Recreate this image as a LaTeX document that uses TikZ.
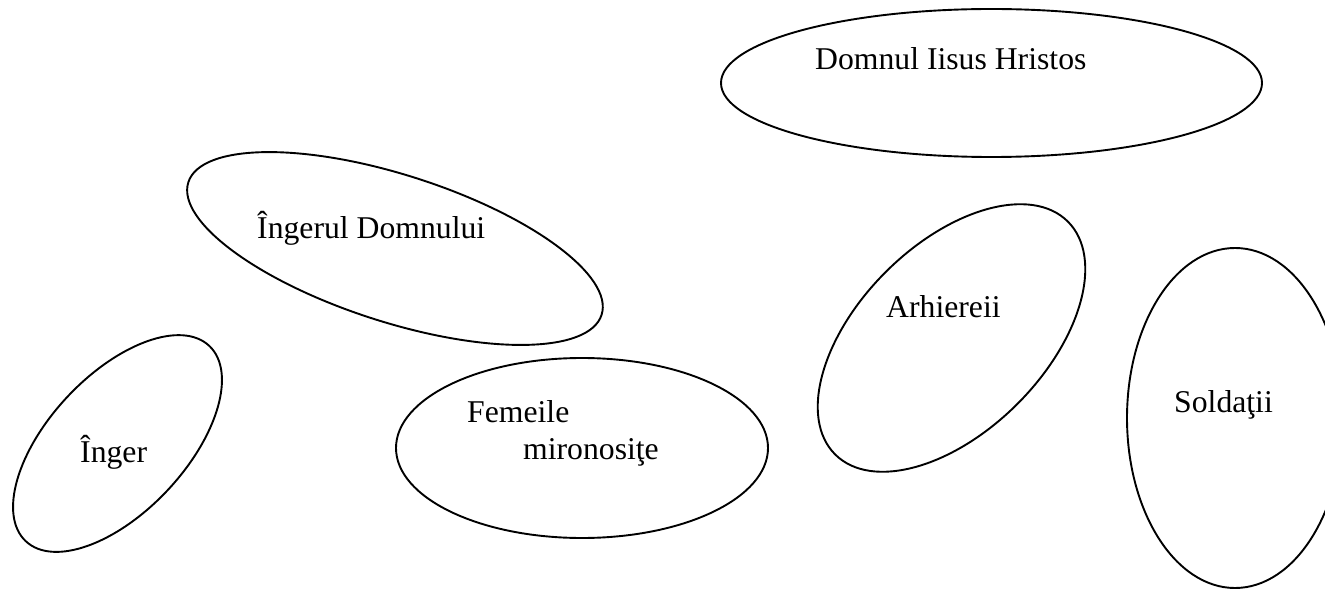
\documentclass[tikz,border=0pt]{standalone}
\usepackage{fontspec}
\setmainfont{Liberation Serif}
\begin{document}
\begin{tikzpicture}[x=1pt,y=1pt,
  ring/.style={draw=black,line width=1.9pt},
  lbl/.style={anchor=base west,inner sep=0pt,font=\fontsize{31.7}{36}\selectfont}]
\useasboundingbox (0,0) rectangle (1325,590);
% ellipse centres
\coordinate (cHristos) at (991.5,507);
\coordinate (cIngerulD) at (395,341.5);
\coordinate (cInger) at (117.5,146.5);
\coordinate (cFemeile) at (582,142);
\coordinate (cArhierei) at (951.5,252);
\coordinate (cSoldati) at (1235,172);
% ellipses
\draw[ring] (cHristos) ellipse [x radius=270.5, y radius=74];
\draw[ring, rotate around={-17.8:(cIngerulD)}] (cIngerulD) ellipse [x radius=217, y radius=73.5];
\draw[ring, rotate around={46.8:(cInger)}] (cInger) ellipse [x radius=134, y radius=68.5];
\draw[ring] (cFemeile) ellipse [x radius=186, y radius=90];
\draw[ring, rotate around={45:(cArhierei)}] (cArhierei) ellipse [x radius=164.6, y radius=93.2];
\draw[ring] (cSoldati) ellipse [x radius=108, y radius=170];
% labels
\node[lbl] (tHristos) at (815,520) {Domnul Iisus Hristos};
\node[lbl] (tIngerulD) at (257,352) {Îngerul Domnului};
\node[lbl] (tInger) at (80,128) {Înger};
\node[lbl] (tFemeile) at (467,168) {Femeile};
\node[lbl] (tMironosite) at (523,131) {mironosiţe};
\node[lbl] (tArhierei) at (886,273) {Arhiereii};
\node[lbl] (tSoldati) at (1174,178) {Soldaţii};
\end{tikzpicture}
\end{document}
